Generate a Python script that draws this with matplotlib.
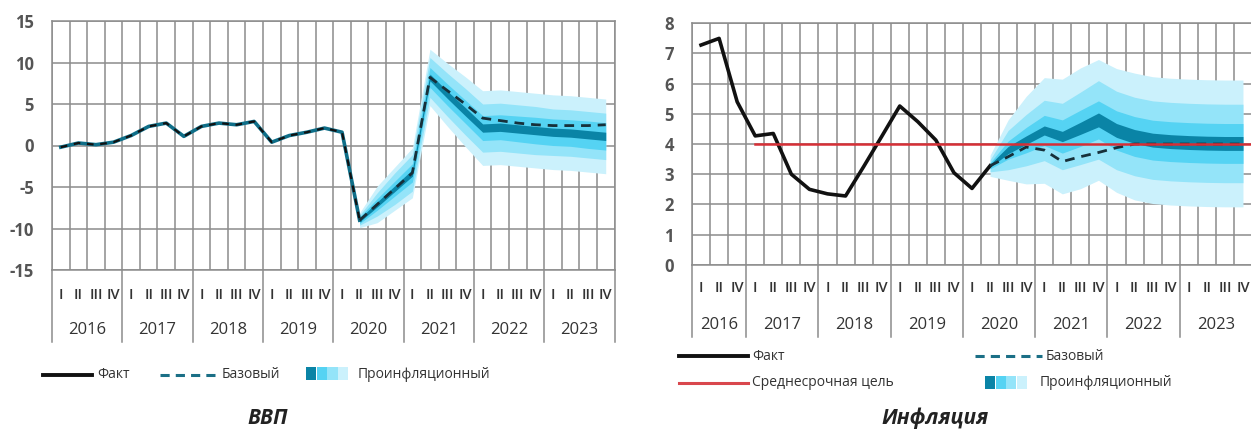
import numpy as np
import matplotlib
matplotlib.use("Agg")
import matplotlib.pyplot as plt
from matplotlib.lines import Line2D
from matplotlib.patches import Rectangle

plt.rcParams['font.family'] = ['Open Sans', 'DejaVu Sans']
plt.rcParams['axes.unicode_minus'] = False

# ---- data ----
years = ['2016', '2017', '2018', '2019', '2020', '2021', '2022', '2023']
quarters = ['I', 'II', 'III', 'IV']
infl_quarters_2016 = ['I', 'II', 'IV']   # only three quarters shown for 2016

# GDP, % y/y, 2016Q1 .. 2020Q2
gdp_fact = [-0.2, 0.3, 0.1, 0.4, 1.2, 2.3, 2.7, 1.1, 2.3, 2.7, 2.5, 2.9,
            0.4, 1.2, 1.6, 2.1, 1.6, -9.0]
# forecast 2020Q2 .. 2023Q4
gdp_base = [-9.0, -7.1, -5.2, -3.3, 8.2, 6.6, 5.0, 3.3, 3.0, 2.7, 2.5, 2.4, 2.4, 2.4, 2.5]
gdp_pro = [-9.0, -7.1, -5.2, -3.3, 8.2, 6.1, 4.1, 2.1, 2.2, 2.0, 1.8, 1.6, 1.5, 1.3, 1.1]
gdp_w1 = [0.9, 2.2, 2.6, 3.0, 3.4, 3.8, 4.2, 4.5, 4.5, 4.5, 4.5, 4.5, 4.5, 4.5, 4.5]
gdp_w2 = [0.6, 1.4, 1.9, 2.2, 2.4, 2.6, 2.8, 2.9, 2.9, 2.9, 2.9, 2.8, 2.8, 2.8, 2.8]
gdp_w3 = [0.4, 0.7, 0.9, 1.1, 1.2, 1.3, 1.4, 1.5, 1.5, 1.55, 1.6, 1.6, 1.6, 1.65, 1.65]
gdp_w4 = [0.2, 0.3, 0.35, 0.4, 0.4, 0.45, 0.5, 0.5, 0.5, 0.5, 0.5, 0.5, 0.5, 0.5, 0.5]

# Inflation, % y/y
infl_fact = [7.28, 7.5, 5.4, 4.27, 4.35, 3.0, 2.5, 2.35, 2.28, 3.25, 4.25, 5.26,
             4.74, 4.13, 3.05, 2.53, 3.28]
infl_base = [3.28, 3.58, 3.9, 3.8, 3.42, 3.58, 3.72, 3.88, 4.0, 4.0, 4.0, 4.0, 4.0, 4.0, 4.0]
infl_pro = [3.28, 3.8, 4.13, 4.45, 4.25, 4.52, 4.8, 4.45, 4.25, 4.13, 4.08, 4.05, 4.03, 4.02, 4.02]
infl_w1 = [0.35, 1.0, 1.45, 1.75, 1.9, 2.0, 2.0, 2.05, 2.1, 2.1, 2.1, 2.1, 2.1, 2.1, 2.1]
infl_w2 = [0.2, 0.65, 0.85, 1.0, 1.1, 1.2, 1.3, 1.3, 1.3, 1.3, 1.3, 1.3, 1.3, 1.3, 1.3]
infl_w3 = [0.1, 0.3, 0.42, 0.5, 0.55, 0.6, 0.63, 0.65, 0.66, 0.66, 0.66, 0.66, 0.66, 0.66, 0.66]
infl_w4 = [0.05, 0.12, 0.14, 0.15, 0.17, 0.2, 0.23, 0.23, 0.23, 0.23, 0.23, 0.23, 0.23, 0.23, 0.23]
target = 4.0

fan_colors = ['#cbf1fc', '#94e4f9', '#55d3f3', '#0a84a6']
grid_c = '#8c8c8c'
text_c = '#333333'

W, H = 1251, 432
fig = plt.figure(figsize=(W / 100, H / 100), dpi=100)


def setup_axes(ax, nq, ylim, ystep, year_list, qlabels, qlab_y, year_y, sep_y):
    ax.set_xlim(0, nq)
    ax.set_ylim(*ylim)
    ax.set_xticks(np.arange(0, nq + 1))
    ax.set_yticks(np.arange(ylim[0], ylim[1] + 0.01, ystep))
    ax.set_xticklabels([])
    ax.grid(True, color=grid_c, lw=1.1)
    ax.set_axisbelow(True)
    ax.tick_params(axis='both', length=0)
    ax.tick_params(axis='y', pad=13, labelsize=12, labelcolor='#555555')
    for lab in ax.get_yticklabels():
        lab.set_fontweight('bold')
    for s in ax.spines.values():
        s.set_color(grid_c)
        s.set_linewidth(1.1)
    tr = ax.get_xaxis_transform()
    pos = 0
    for yr, ql in zip(year_list, qlabels):
        ax.plot([pos, pos], [0, sep_y], color=grid_c, lw=1.1, transform=tr, clip_on=False)
        for k, q in enumerate(ql):
            ax.text(pos + k + 0.5, qlab_y, q, transform=tr, ha='center', va='center',
                    fontsize=10.5, fontweight='semibold', color=text_c)
        ax.text(pos + len(ql) / 2, year_y, yr, transform=tr, ha='center', va='center',
                fontsize=12, color=text_c)
        pos += len(ql)
    ax.plot([pos, pos], [0, sep_y], color=grid_c, lw=1.1, transform=tr, clip_on=False)


def draw_fan(ax, x, center, widths):
    c = np.array(center)
    for w, col in zip(widths, fan_colors):
        w = np.array(w)
        ax.fill_between(x, c - w, c + w, color=col, lw=0, zorder=2)


# ---- GDP ----
ax1 = fig.add_axes([52 / W, 1 - 270 / H, 562.5 / W, 249 / H])
setup_axes(ax1, 32, (-15, 15), 5, years, [quarters] * 8,
           -25 / 249, -60 / 249, -72 / 249)
x_fact = np.arange(len(gdp_fact)) + 0.5
x_fc = np.arange(len(gdp_pro)) + len(gdp_fact) - 1 + 0.5
draw_fan(ax1, x_fc, gdp_pro, [gdp_w1, gdp_w2, gdp_w3, gdp_w4])
ax1.plot(x_fact, gdp_fact, color='#0e6e88', lw=2.6, zorder=3)
ax1.plot(x_fact, gdp_fact, color='#111111', lw=1.6, ls=(0, (3, 3)), zorder=4)
ax1.plot(x_fc, gdp_base, color='#17303a', lw=2.0, ls=(0, (3.5, 2.5)), zorder=4)

# ---- Inflation ----
ax2 = fig.add_axes([692 / W, 1 - 264.8 / H, 560 / W, 241.5 / H])
setup_axes(ax2, 31, (0, 8), 1, years, [infl_quarters_2016] + [quarters] * 7,
           -23 / 241.5, -60 / 241.5, -72 / 241.5)
xi_fact = np.arange(len(infl_fact)) + 0.5
xi_fc = np.arange(len(infl_pro)) + len(infl_fact) - 1 + 0.5
draw_fan(ax2, xi_fc, infl_pro, [infl_w1, infl_w2, infl_w3, infl_w4])
ax2.plot(xi_fact, infl_fact, color='#111111', lw=2.6, zorder=4)
ax2.plot([3.5, 31], [target, target], color='#d62f36', lw=1.8, zorder=5)
ax2.plot(xi_fc, infl_base, color='#17303a', lw=2.0, ls=(0, (3.5, 2.5)), zorder=4)


# ---- legends (figure coordinates) ----
def leg_line(x0, x1, y, **kw):
    fig.add_artist(Line2D([x0 / W, x1 / W], [1 - y / H] * 2, **kw))


def leg_text(x, y, s):
    fig.text(x / W, 1 - y / H, s, ha='left', va='center', fontsize=10, color=text_c)


def leg_blocks(x0, y, w=10.5, h=13):
    for k, col in enumerate(fan_colors[::-1]):
        fig.add_artist(Rectangle(((x0 + k * w) / W, 1 - (y + h / 2) / H), w / W, h / H,
                                 color=col, lw=0))


leg_line(43, 92, 375, color='#111111', lw=2.8)
leg_text(97, 375, 'Факт')
leg_line(160, 218, 375, color='#1b6f86', lw=2.2, ls=(0, (3, 2)))
leg_text(222, 375, 'Базовый')
leg_blocks(306, 373)
leg_text(358, 375, 'Проинфляционный')
fig.text(268 / W, 1 - 418 / H, 'ВВП', ha='center', va='center', fontsize=15,
         fontstyle='italic', fontweight='bold', color='#222222')

leg_line(679, 748, 356, color='#111111', lw=2.8)
leg_text(752, 356, 'Факт')
leg_line(679, 748, 383, color='#d9474d', lw=2.2)
leg_text(752, 383, 'Среднесрочная цель')
leg_line(975, 1042, 356, color='#1b6f86', lw=2.2, ls=(0, (3, 2)))
leg_text(1046, 356, 'Базовый')
leg_blocks(985, 382)
leg_text(1040, 383, 'Проинфляционный')
fig.text(935 / W, 1 - 418 / H, 'Инфляция', ha='center', va='center', fontsize=15,
         fontstyle='italic', fontweight='bold', color='#222222')

fig.savefig('out.png', dpi=100)
